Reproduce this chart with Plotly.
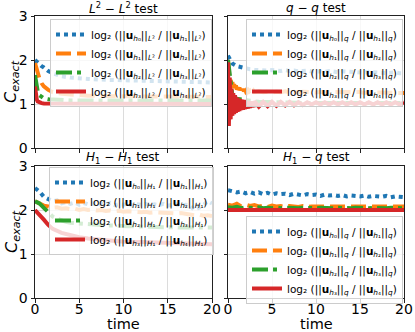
import plotly.graph_objects as go

# time grids
t_smooth = [0, 0.1, 0.2, 0.3, 0.5, 0.75, 1, 1.5, 2, 3, 4, 5, 6, 8, 10, 12, 14, 16, 18, 20]
t_half = [0, 0.5, 1, 1.5, 2, 2.5, 3, 3.5, 4, 4.5, 5, 5.5, 6, 6.5, 7, 7.5, 8, 8.5, 9, 9.5, 10,
          10.5, 11, 11.5, 12, 12.5, 13, 13.5, 14, 14.5, 15, 15.5, 16, 16.5, 17, 17.5, 18, 18.5,
          19, 19.5, 20]
t_dense = [0, 0.1, 0.2, 0.3, 0.4, 0.5, 0.6, 0.7, 0.8, 0.9, 1.0, 1.1, 1.2, 1.3, 1.4, 1.5, 1.6,
           1.7, 1.8, 1.9, 2.0, 2.1, 2.2, 2.3, 2.4, 2.5, 2.6, 2.7, 2.8, 2.9, 3.0, 3.5, 4, 4.5, 5,
           5.5, 6, 6.5, 7, 7.5, 8, 8.5, 9, 9.5, 10, 10.5, 11, 11.5, 12, 12.5, 13, 13.5, 14, 14.5,
           15, 15.5, 16, 16.5, 17, 17.5, 18, 18.5, 19, 19.5, 20]

# L2 - L2 test (on t_smooth)
l2_b = [2.0, 1.98, 1.95, 1.93, 1.9, 1.86, 1.83, 1.75, 1.7, 1.63, 1.6, 1.58, 1.57, 1.55, 1.54,
        1.53, 1.52, 1.51, 1.5, 1.49]
l2_o = [1.93, 1.85, 1.77, 1.7, 1.58, 1.47, 1.4, 1.32, 1.27, 1.23, 1.21, 1.2, 1.19, 1.18, 1.18,
        1.17, 1.17, 1.16, 1.16, 1.16]
l2_g = [1.66, 1.5, 1.38, 1.3, 1.2, 1.15, 1.13, 1.11, 1.1, 1.09, 1.08, 1.08, 1.08, 1.08, 1.08,
        1.08, 1.08, 1.08, 1.08, 1.08]
l2_r = [1.4, 1.2, 1.1, 1.06, 1.03, 1.02, 1.01, 1.01, 1.0, 1.0, 1.0, 1.0, 1.0, 1.0, 1.0, 1.0,
        1.0, 1.0, 1.0, 1.0]

# q - q test
qq_b = [2.1, 1.92, 1.86, 1.83, 1.8, 1.79, 1.78, 1.77, 1.78, 1.76, 1.77, 1.76, 1.75, 1.77, 1.75,
        1.76, 1.74, 1.75, 1.76, 1.74, 1.75, 1.74, 1.73, 1.75, 1.74, 1.72, 1.74, 1.73, 1.72, 1.73,
        1.72, 1.71, 1.73, 1.72, 1.71, 1.72, 1.7, 1.71, 1.72, 1.7, 1.7]
qq_o = [2.0, 1.6, 1.42, 1.55, 1.38, 1.5, 1.36, 1.45, 1.34, 1.42, 1.33, 1.38, 1.32, 1.37, 1.31,
        1.36, 1.3, 1.34, 1.29, 1.33, 1.29, 1.32, 1.28, 1.31, 1.28, 1.3, 1.27, 1.3, 1.27, 1.3,
        1.27, 1.29, 1.27, 1.28, 1.26, 1.28, 1.27, 1.29, 1.26, 1.28, 1.26, 1.28, 1.27, 1.27, 1.26,
        1.28, 1.26, 1.27, 1.27, 1.26, 1.28, 1.26, 1.27, 1.26, 1.27, 1.25, 1.27, 1.26, 1.26, 1.25,
        1.27, 1.25, 1.26, 1.26, 1.25]
qq_g = [2.0, 1.2, 1.12, 1.1, 1.08, 1.07, 1.06, 1.05, 1.05, 1.04, 1.04, 1.04, 1.03, 1.03, 1.03,
        1.03, 1.03, 1.02, 1.03, 1.02, 1.02, 1.02, 1.02, 1.02, 1.02, 1.02, 1.02, 1.02, 1.02, 1.02,
        1.02, 1.02, 1.02, 1.02, 1.02, 1.02, 1.02, 1.02, 1.02, 1.02, 1.02]
qq_r = [1.95, 0.5, 1.6, 0.65, 1.35, 0.73, 1.25, 0.77, 1.2, 0.8, 1.15, 0.82, 1.13, 0.84, 1.11,
        0.86, 1.1, 0.87, 1.09, 0.88, 1.08, 0.89, 1.07, 0.9, 1.07, 0.91, 1.06, 0.92, 1.06, 0.93,
        1.06, 0.94, 1.05, 0.95, 1.05, 0.96, 1.05, 0.97, 1.05, 0.97, 1.04, 0.98, 1.04, 0.99, 1.04,
        0.99, 1.04, 0.99, 1.04, 0.99, 1.04, 0.99, 1.04, 0.99, 1.04, 0.99, 1.04, 0.99, 1.04, 0.99,
        1.04, 0.99, 1.04, 0.99, 1.04]

# H1 - H1 test
h1_b = [2.5, 2.42, 2.3, 2.25, 2.2, 2.22, 2.15, 2.18, 2.14, 2.17, 2.12, 2.16, 2.13, 2.15, 2.11,
        2.14, 2.12, 2.16, 2.11, 2.13, 2.12, 2.15, 2.1, 2.13, 2.12, 2.14, 2.1, 2.13, 2.11, 2.14,
        2.1, 2.12, 2.13, 2.1, 2.12, 2.1, 2.0, 2.05, 2.1, 2.2, 2.15]
h1_o = [2.2, 2.15, 2.1, 2.08, 2.05, 2.06, 2.03, 2.04, 2.02, 2.03, 2.0, 2.02, 2.0, 2.01, 1.99,
        2.0, 1.98, 1.99, 1.97, 1.98, 1.96, 1.97, 1.96, 1.96, 1.95, 1.96, 1.94, 1.95, 1.94, 1.94,
        1.93, 1.93, 1.92, 1.93, 1.91, 1.9, 1.88, 1.9, 1.87, 1.88, 1.86]
h1_g = [2.2, 2.15, 2.05, 1.95, 1.85, 1.8, 1.76, 1.73, 1.71, 1.7, 1.69, 1.68, 1.68, 1.67, 1.66,
        1.66, 1.65, 1.65, 1.64, 1.64, 1.63, 1.63, 1.63, 1.62, 1.62, 1.62, 1.62, 1.61, 1.61, 1.61,
        1.61, 1.6, 1.6, 1.6, 1.6, 1.6, 1.6, 1.59, 1.59, 1.59, 1.6]
h1_r = [2.0, 1.98, 1.96, 1.94, 1.9, 1.85, 1.78, 1.66, 1.57, 1.48, 1.42, 1.38, 1.35, 1.31, 1.28,
        1.27, 1.26, 1.25, 1.23, 1.22]

# H1 - q test
hq_b = [2.45, 2.43, 2.4, 2.42, 2.38, 2.41, 2.37, 2.4, 2.36, 2.39, 2.35, 2.38, 2.36, 2.37, 2.34,
        2.37, 2.35, 2.33, 2.36, 2.34, 2.35, 2.32, 2.35, 2.33, 2.34, 2.32, 2.34, 2.31, 2.33, 2.32,
        2.31, 2.33, 2.3, 2.32, 2.31, 2.3, 2.32, 2.29, 2.31, 2.3, 2.29]
hq_o = [2.12, 2.1, 2.14, 2.08, 2.12, 2.09, 2.11, 2.08, 2.1, 2.07, 2.1, 2.08, 2.09, 2.07, 2.09,
        2.08, 2.07, 2.09, 2.07, 2.08, 2.08, 2.07, 2.09, 2.07, 2.08, 2.07, 2.08, 2.07, 2.09, 2.07,
        2.08, 2.07, 2.08, 2.07, 2.08, 2.07, 2.08, 2.07, 2.08, 2.07, 2.08]
hq_g = [2.06, 2.05, 2.07, 2.04, 2.06, 2.05, 2.04, 2.06, 2.04, 2.05, 2.04, 2.06, 2.04, 2.05, 2.04,
        2.05, 2.04, 2.05, 2.04, 2.05, 2.04, 2.05, 2.04, 2.05, 2.04, 2.05, 2.04, 2.05, 2.04, 2.05,
        2.04, 2.05, 2.04, 2.05, 2.04, 2.05, 2.04, 2.05, 2.04, 2.05, 2.04]
hq_r = [2.0, 2.0, 2.0, 2.0, 2.0, 2.0, 2.0, 2.0, 2.0, 2.0, 2.0, 2.0, 2.0, 2.0, 2.0, 2.0, 2.0,
        2.0, 2.0, 2.0]

titles = ["<i>L</i><sup>2</sup> − <i>L</i><sup>2</sup> test", "<i>q</i> − <i>q</i> test",
          "<i>H</i><sub>1</sub> − <i>H</i><sub>1</sub> test", "<i>H</i><sub>1</sub> − <i>q</i> test"]
norms = ["<i>L</i>²", "<i>q</i>", "<i>H</i>₁", "<i>q</i>"]

COLORS = ["#1f77b4", "#ff7f0e", "#2ca02c", "#d62728"]
DASHES = ["4px,4px", "15px,6px", "16px,5px,4px,5px", "solid"]


def label(k, norm):
    return (f"log₂ (||<b>u</b><sub><i>h</i>{'₀₁₂₃₄'[k]}</sub>||<sub>{norm}</sub>"
            f" / ||<b>u</b><sub><i>h</i>{'₀₁₂₃₄'[k + 1]}</sub>||<sub>{norm}</sub>)")


panels = [
    ([t_smooth, t_smooth, t_smooth, t_smooth], [l2_b, l2_o, l2_g, l2_r]),
    ([t_half, t_dense, t_half, t_dense], [qq_b, qq_o, qq_g, qq_r]),
    ([t_half, t_half, t_half, t_smooth], [h1_b, h1_o, h1_g, h1_r]),
    ([t_half, t_half, t_half, t_smooth], [hq_b, hq_o, hq_g, hq_r]),
]

W, H = 415, 332
xdom = [[35 / W, 212 / W], [228 / W, 404 / W]]
ydom = [[1 - 148 / H, 1 - 16 / H], [1 - 298 / H, 1 - 166 / H]]
title_y = [8, 158]
legend_pos = [(50 / W, 1 - 19 / H), (246 / W, 1 - 19 / H), (49 / W, 1 - 167 / H), (246 / W, 1 - 216 / H)]

fig = go.Figure()
layout = dict(width=W, height=H, autosize=False, margin=dict(l=0, r=0, t=0, b=0, autoexpand=False),
              plot_bgcolor="white", paper_bgcolor="white",
              font=dict(family="DejaVu Sans", color="black"), annotations=[])

for p, (ts, ys) in enumerate(panels):
    row, col = divmod(p, 2)
    ax = "" if p == 0 else str(p + 1)
    leg = "legend" if p == 0 else f"legend{p + 1}"
    for k in range(4):
        fig.add_trace(go.Scatter(
            x=ts[k], y=ys[k], mode="lines", name=label(k, norms[p]),
            line=dict(color=COLORS[k], width=4, dash=DASHES[k]),
            xaxis="x" + ax, yaxis="y" + ax, legend=leg,
        ))
    axis_common = dict(showline=True, mirror=True, linecolor="#222", linewidth=1,
                       ticks="outside", ticklen=3.5, tickcolor="#222", automargin=False,
                       showgrid=True, gridcolor="#dcdcdc", gridwidth=1, zeroline=False,
                       tickfont=dict(size=14))
    layout["xaxis" + ax] = dict(axis_common, domain=xdom[col], range=[0, 20],
                                tickvals=[0, 5, 10, 15, 20], showticklabels=(row == 1),
                                ticklabelstandoff=-5, anchor="y" + ax)
    layout["yaxis" + ax] = dict(axis_common, domain=ydom[row], range=[0, 3],
                                tickvals=[0, 1, 2, 3], showticklabels=(col == 0),
                                anchor="x" + ax)
    lx, ly = legend_pos[p]
    layout[leg] = dict(x=lx, y=ly, xanchor="left", yanchor="top",
                       bgcolor="rgba(255,255,255,0.8)", bordercolor="#cccccc", borderwidth=1,
                       font=dict(size=10.5), itemwidth=30, tracegroupgap=0)
    layout["annotations"].append(dict(
        text=titles[p], x=sum(xdom[col]) / 2, y=1 - title_y[row] / H, xref="paper", yref="paper",
        xanchor="center", yanchor="middle", showarrow=False, font=dict(size=12)))

for row in range(2):
    layout["annotations"].append(dict(
        text="<i>C</i><sub><i>exact</i></sub>", x=12 / W, y=sum(ydom[row]) / 2,
        xref="paper", yref="paper", xanchor="center", yanchor="middle",
        textangle=-90, showarrow=False, font=dict(size=16)))
for col in range(2):
    layout["annotations"].append(dict(
        text="time", x=sum(xdom[col]) / 2, y=1 - 324 / H, xref="paper", yref="paper",
        xanchor="center", yanchor="middle", showarrow=False, font=dict(size=14.5)))

fig.update_layout(**layout)
# the page body has a default 8px margin; drop it so the figure sits at the window corner
fig.write_html("out.html", config={"displayModeBar": False},
               post_script="document.body.style.margin='0';")
